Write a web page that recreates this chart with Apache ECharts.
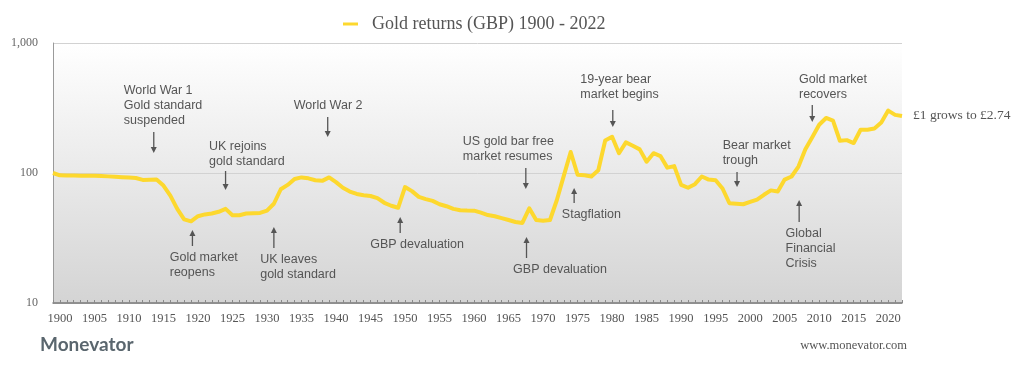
<!DOCTYPE html>
<html>
<head>
<meta charset="utf-8">
<script src="https://cdn.jsdelivr.net/npm/echarts@6/dist/echarts.min.js"></script>
<style>
html,body{margin:0;padding:0;background:#fff;}
#chart{width:1024px;height:373px;}
</style>
</head>
<body>
<div id="chart"></div>
<script>
// ---- DATA ----
const seriesName = 'Gold returns (GBP) 1900 - 2022';
const firstYear = 1899;
const goldValues = [
  100, 96, 95.8, 95.6, 95.4, 95.3, 95.2, 94.8, 94.2, 93.5, 92.8, 92.2, 91.5, 88.5, 88.8, 89,
  80, 67, 53, 44, 42.5, 46.5, 48, 48.8, 50.3, 53,
  47.3, 47.3, 48.8, 49, 49.3, 51.3, 58, 75, 81, 90,
  92.5, 91, 88, 87, 92.5, 85, 77, 72, 69, 67.5,
  66.5, 64, 59, 56, 54, 78, 72.5, 65.5, 63, 61,
  57.5, 55.5, 53, 51.7, 51.4, 51.3, 49.5, 47.5, 46.5, 45,
  43.5, 42, 41.3, 53.5, 43.5, 43, 43.5, 62, 95, 145,
  97, 96, 94, 105, 178, 190, 142, 172, 162, 152,
  122, 142, 135, 110, 113, 81, 77, 82, 94, 89,
  88, 76, 58.5, 58, 57.5, 60, 62.5, 68, 73.5, 72,
  89, 94, 112, 152, 188, 235, 265, 253, 177, 179,
  170, 215, 215, 220, 245, 302, 280, 274
];
const years = goldValues.map((v, i) => firstYear + i);
const yTicks = [10, 100, 1000];
const endLabel = '£1 grows to £2.74';

// annotation events: year pointed at, label lines
const eventYears = [1913.6, 1938.8, 1924.0, 1919.2, 1931.0, 1949.3, 1967.5, 1967.6, 1974.5, 1980.1, 1998.1, 2007.1, 2009.0];
const eventLabels = [
  ['World War 1', 'Gold standard', 'suspended'],
  ['World War 2'],
  ['UK rejoins', 'gold standard'],
  ['Gold market', 'reopens'],
  ['UK leaves', 'gold standard'],
  ['GBP devaluation'],
  ['US gold bar free', 'market resumes'],
  ['GBP devaluation'],
  ['Stagflation'],
  ['19-year bear', 'market begins'],
  ['Bear market', 'trough'],
  ['Global', 'Financial', 'Crisis'],
  ['Gold market', 'recovers']
];
// layout of annotations (pixels): arrow dir, tail y, head y, text dx, first line centre y
const eventLayout = [
  {dir: 'down', tail: 132, head: 153, dx: -30, ty: 91},
  {dir: 'down', tail: 117, head: 137, dx: -34, ty: 105.5},
  {dir: 'down', tail: 171, head: 190, dx: -16.6, ty: 146.7},
  {dir: 'up', tail: 246, head: 230, dx: -22.7, ty: 257.3},
  {dir: 'up', tail: 248, head: 227, dx: -13.7, ty: 259.3},
  {dir: 'up', tail: 233, head: 217, dx: -30, ty: 245},
  {dir: 'down', tail: 168, head: 189, dx: -63, ty: 141.7},
  {dir: 'up', tail: 258, head: 237, dx: -13.4, ty: 270},
  {dir: 'up', tail: 203, head: 188, dx: -12.3, ty: 215},
  {dir: 'down', tail: 110, head: 127, dx: -32.5, ty: 80},
  {dir: 'down', tail: 172, head: 187, dx: -14.4, ty: 146},
  {dir: 'up', tail: 222, head: 200, dx: -13.6, ty: 234},
  {dir: 'down', tail: 105, head: 122, dx: -13.3, ty: 80}
];

// ---- CHART ----
const chart = echarts.init(document.getElementById('chart'), null, {renderer: 'canvas'});
const serif = '"Liberation Serif", "Times New Roman", serif';
const sans = '"Liberation Sans", Arial, Helvetica, sans-serif';
const yellow = '#fdd82e';

chart.setOption({
  animation: false,
  backgroundColor: '#ffffff',
  legend: {
    data: [seriesName],
    left: 338,
    top: 10,
    icon: 'rect',
    itemWidth: 15,
    itemHeight: 3,
    textStyle: {fontFamily: serif, fontSize: 18, color: '#555', padding: [0, 0, 0, 9]}
  },
  grid: {
    left: 53, right: 122, top: 43, bottom: 70,
    show: true, borderWidth: 0,
    backgroundColor: {
      type: 'linear', x: 0, y: 0, x2: 0, y2: 1,
      colorStops: [{offset: 0, color: '#ffffff'}, {offset: 1, color: '#d4d4d4'}]
    }
  },
  xAxis: {
    type: 'value',
    min: firstYear,
    max: years[years.length - 1],
    interval: 1,
    axisLine: {show: true, lineStyle: {color: '#7a7a7a', width: 1.5}},
    axisTick: {show: true, inside: true, length: 3, lineStyle: {color: '#8a8a8a', width: 1}},
    splitLine: {show: false},
    axisLabel: {
      margin: 9,
      fontFamily: serif, fontSize: 12.5, color: '#555',
      formatter: v => (v % 5 === 0 ? String(v) : '')
    }
  },
  yAxis: {
    type: 'log',
    logBase: 10,
    min: yTicks[0],
    max: yTicks[yTicks.length - 1],
    axisLine: {show: true, lineStyle: {color: '#9a9a9a', width: 1}},
    axisTick: {show: false},
    splitLine: {show: true, lineStyle: {color: '#d2d2d2', width: 1}},
    axisLabel: {
      margin: 15,
      fontFamily: serif, fontSize: 12, color: '#666',
      formatter: v => (v >= 1000 ? v.toLocaleString('en-GB') : String(v))
    }
  },
  series: [{
    name: seriesName,
    type: 'line',
    data: years.map((y, i) => [y, goldValues[i]]),
    symbol: 'none',
    color: yellow,
    lineStyle: {color: yellow, width: 4, join: 'round'},
    z: 5
  }]
});

// ---- ANNOTATIONS & FOOTER ----
const g = [];
const arrowColor = '#555';
eventYears.forEach((yr, i) => {
  const L = eventLayout[i];
  const x = chart.convertToPixel({xAxisIndex: 0}, yr);
  const s = L.dir === 'down' ? 1 : -1;
  g.push({
    type: 'line', silent: true, z: 10,
    shape: {x1: x, y1: L.tail, x2: x, y2: L.head - s * 4},
    style: {stroke: arrowColor, lineWidth: 1.3}
  });
  g.push({
    type: 'polygon', silent: true, z: 10,
    shape: {points: [[x - 3, L.head - s * 6], [x + 3, L.head - s * 6], [x, L.head]]},
    style: {fill: arrowColor}
  });
  g.push({
    type: 'text', silent: true, z: 10,
    style: {
      text: eventLabels[i].join('\n'),
      x: x + L.dx, y: L.ty - 7.5,
      font: '12.5px ' + sans,
      lineHeight: 15,
      fill: '#555',
      textVerticalAlign: 'top'
    }
  });
});
// end value label placed next to last point
const lastPt = chart.convertToPixel({seriesIndex: 0}, [years[years.length - 1], goldValues[goldValues.length - 1]]);
g.push({
  type: 'text', silent: true,
  style: {text: endLabel, x: lastPt[0] + 11, y: lastPt[1] - 1, font: '13.5px ' + serif, fill: '#555', textVerticalAlign: 'middle'}
});
g.push({
  type: 'text', silent: true,
  style: {text: 'Monevator', x: 40, y: 345, font: 'bold 19px Lato, "Open Sans", sans-serif', fill: '#5a666e', textVerticalAlign: 'middle'}
});
g.push({
  type: 'text', silent: true,
  style: {text: 'www.monevator.com', x: 907, y: 346, font: '12.5px ' + serif, fill: '#555', textAlign: 'right', textVerticalAlign: 'middle'}
});
chart.setOption({graphic: g});
</script>
</body>
</html>
